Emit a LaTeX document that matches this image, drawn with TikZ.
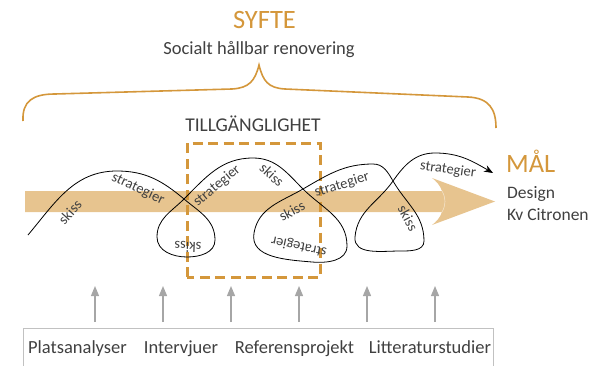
\documentclass[tikz,border=0pt]{standalone}
\usepackage{fontspec}
\setmainfont{Carlito}
\usetikzlibrary{arrows.meta}
\definecolor{gold}{RGB}{212,151,59}
\definecolor{band}{RGB}{231,196,143}
\definecolor{ink}{RGB}{64,64,64}
\definecolor{pale}{RGB}{166,166,166}

\begin{document}
\begin{tikzpicture}[x=1pt,y=1pt,>/.tip={Stealth[length=9pt,width=7pt]},
    word/.style={text=ink,inner sep=0pt,font=\fontsize{14.5}{16}\selectfont},
    body/.style={text=ink,inner sep=0pt,font=\fontsize{18.5}{22}\selectfont},
    head/.style={text=gold,inner sep=0pt,font=\fontsize{26.5}{30}\selectfont},
    input/.style={pale,line width=1.2pt,-{Triangle[length=10pt,width=8pt]}}]
    \useasboundingbox (0,0) rectangle (591,365);
    % The headings
    \node[head,anchor=base] (syfte) at (264.5,336) {SYFTE};
    \node[body,anchor=base] (social) at (259,310) {Socialt hållbar renovering};
    \node[body,anchor=base,font=\fontsize{19.5}{22}\selectfont] (access) at (253,234) {TILLGÄNGLIGHET};
    % The brace
    \draw[gold,line width=1.6pt] (23,244) .. controls (22,264) and (33,271) .. (55,271)
      -- (232,276) .. controls (249,277) and (255,284) .. (259,300)
      .. controls (263,284) and (268,277) .. (285,276)
      -- (468,268) .. controls (489,267) and (496,256) .. (496,237);
    % The band with its arrow head
    \fill[band] (25,153) -- (25,174) -- (442,174)
      .. controls (440,180) and (436,184) .. (432,187) -- (495,163.5) -- (432,140)
      .. controls (436,143) and (440,147) .. (442,153) -- cycle;
    \draw[white,opacity=0.5,line width=0.6pt] (442,174) .. controls (446,167) and (446,160) .. (442,153);
    % The box round the work on access
    \draw[gold,line width=3pt,dash pattern=on 10pt off 5.5pt] (187,88) rectangle (320,222);
    % The path of the work
    \draw[line width=0.8pt,->] (28,130) to[out=50,in=180] (117,194) to[out=0,in=140] (184,166)
      to[out=-40,in=90] (215,125) to[out=-90,in=0] (187,108) to[out=180,in=-90] (157,128)
      to[out=90,in=225] (184,166) to[out=45,in=180] (253,207) to[out=0,in=135] (303,176)
      to[out=-45,in=90] (347,119) to[out=-90,in=-5] (312,103) to[out=175,in=-100] (254,132)
      to[out=80,in=210] (303,176) to[out=30,in=180] (373,201) to[out=0,in=120] (393,184)
      to[out=-60,in=90] (424,124) to[out=-90,in=0] (400,114) to[out=180,in=-95] (355,128)
      to[out=85,in=235] (393,184) to[out=55,in=180] (435,212) to[out=0,in=150] (493,192);
    % The words along it
    \node[word,rotate=48] (s1) at (70,153) {skiss};
    \node[word,rotate=-25] (t1) at (138,176) {strategier};
    \node[word,rotate=40] (t2) at (217,179) {strategier};
    \node[word,rotate=178] (s2) at (188,118) {skiss};
    \node[word,rotate=-42] (s3) at (272,190) {skiss};
    \node[word,rotate=28] (s4) at (292,154) {skiss};
    \node[word,rotate=17] (t3) at (342,180) {strategier};
    \node[word,rotate=168] (t4) at (299,119) {strategier};
    \node[word,rotate=-62] (s5) at (408,147) {skiss};
    \node[word,rotate=-8] (t5) at (448,195) {strategier};
    % The goal
    \node[head,anchor=base west] (mal) at (506,193) {MÅL};
    \node[body,anchor=base west,font=\fontsize{17.5}{20}\selectfont] (design) at (507,167) {Design};
    \node[body,anchor=base west,font=\fontsize{17.5}{20}\selectfont] (kv) at (507,145) {Kv Citronen};
    % The sources
    \draw[pale!70,line width=1pt] (23,-5) -- (23,37) -- (493,37) -- (493,-5);
    \node[body,anchor=base] (plats) at (77.5,12) {Platsanalyser};
    \node[body,anchor=base] (intervju) at (181,12) {Intervjuer};
    \node[body,anchor=base] (referens) at (294.5,12) {Referensprojekt};
    \node[body,anchor=base] (litteratur) at (430,12) {Litteraturstudier};
    \foreach \i in {0,...,5} {
      \coordinate (from\i) at (95+68*\i,43);
      \coordinate (to\i) at (95+68*\i,79);
      \draw[input] (from\i) -- (to\i);
    }
\end{tikzpicture}
\end{document}
